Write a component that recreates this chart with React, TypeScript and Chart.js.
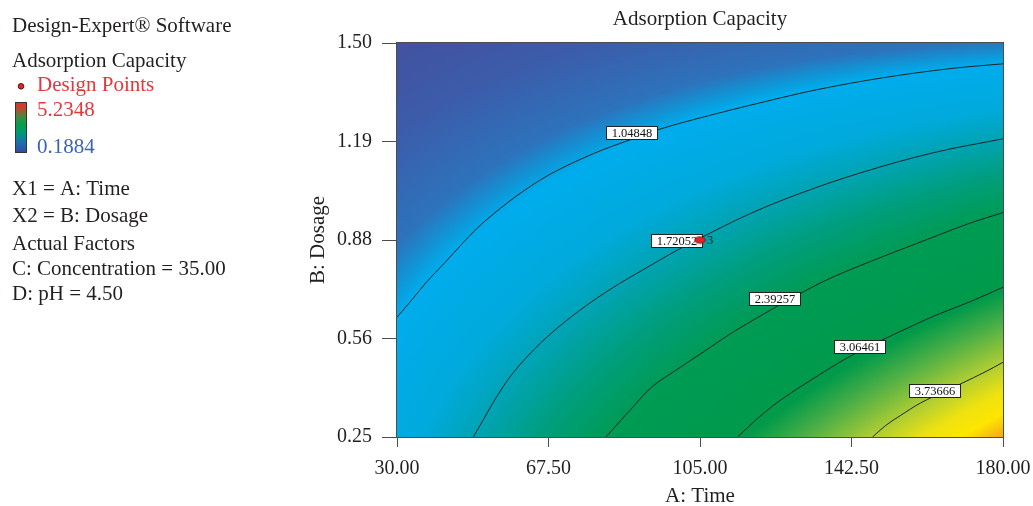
import React, { useEffect, useRef } from "react";
import { Chart, registerables } from "chart.js";

Chart.register(...registerables);

// ---------- data ----------
const TIME_TICKS = [30, 67.5, 105, 142.5, 180];
const TIME_TICK_LABELS = ["30.00", "67.50", "105.00", "142.50", "180.00"];
const DOSAGE_TICKS = [0.25, 0.5625, 0.875, 1.1875, 1.5];
const DOSAGE_TICK_LABELS = ["0.25", "0.56", "0.88", "1.19", "1.50"];

// response surface samples (Adsorption Capacity) on a Time x Dosage grid
const TIME_GRID = [30, 45, 60, 75, 90, 105, 120, 135, 150, 165, 180];
const DOSAGE_GRID = [0.25, 0.375, 0.5, 0.625, 0.75, 0.875, 1.0, 1.125, 1.25, 1.375, 1.5];
const CAPACITY_GRID = [
  [1.330, 1.635, 1.941, 2.248, 2.555, 2.863, 3.172, 3.481, 3.790, 4.101, 4.412],
  [1.243, 1.521, 1.799, 2.078, 2.359, 2.640, 2.922, 3.204, 3.488, 3.772, 4.057],
  [1.151, 1.402, 1.654, 1.907, 2.161, 2.416, 2.672, 2.928, 3.186, 3.444, 3.703],
  [1.052, 1.279, 1.506, 1.735, 1.964, 2.193, 2.423, 2.653, 2.884, 3.116, 3.348],
  [0.947, 1.151, 1.356, 1.560, 1.765, 1.969, 2.174, 2.379, 2.584, 2.789, 2.994],
  [0.836, 1.019, 1.202, 1.384, 1.565, 1.746, 1.926, 2.105, 2.284, 2.462, 2.639],
  [0.719, 0.883, 1.045, 1.206, 1.365, 1.523, 1.678, 1.832, 1.985, 2.135, 2.284],
  [0.596, 0.742, 0.886, 1.027, 1.164, 1.299, 1.431, 1.560, 1.686, 1.810, 1.930],
  [0.467, 0.597, 0.724, 0.845, 0.963, 1.076, 1.184, 1.289, 1.389, 1.484, 1.575],
  [0.331, 0.448, 0.558, 0.662, 0.761, 0.852, 0.938, 1.018, 1.092, 1.159, 1.221],
  [0.190, 0.294, 0.390, 0.478, 0.557, 0.629, 0.693, 0.748, 0.795, 0.835, 0.866],
];

const RESPONSE_MAX = 5.2348;
const RESPONSE_MIN = 0.1884;

const CONTOUR_LEVELS = [1.04848, 1.72052, 2.39257, 3.06461, 3.73666];
// contour paths: [time, dosage]
const CONTOUR_1 = [[30, 0.630], [34.0, 0.690], [37.2, 0.740], [41.9, 0.804], [45.9, 0.860], [49.8, 0.912], [53.9, 0.958], [60.6, 1.024], [68.1, 1.085], [78.8, 1.150], [87.5, 1.192], [95.4, 1.228], [106.1, 1.266], [119.8, 1.310], [134.0, 1.352], [150.4, 1.390], [167.1, 1.419], [180, 1.434]];
const CONTOUR_2 = [[48.9, 0.25], [56.8, 0.420], [63.8, 0.526], [72.0, 0.620], [82.0, 0.712], [91.9, 0.788], [99.4, 0.843], [104.9, 0.880], [117.3, 0.958], [129.8, 1.023], [144.7, 1.088], [162.8, 1.152], [180, 1.196]];
const CONTOUR_3 = [[81.7, 0.25], [88.4, 0.345], [93.0, 0.408], [99.4, 0.465], [106.1, 0.522], [113.1, 0.582], [124.0, 0.664], [130.5, 0.710], [138.0, 0.758], [150.4, 0.823], [161.3, 0.877], [171.3, 0.926], [180, 0.962]];
const CONTOUR_4 = [[114.3, 0.25], [119.8, 0.315], [125.5, 0.372], [134.0, 0.443], [140.9, 0.497], [147.9, 0.544], [154.6, 0.585], [162.8, 0.633], [172.0, 0.680], [180, 0.725]];
const CONTOUR_5 = [[147.7, 0.25], [151.0, 0.287], [154.6, 0.318], [159.6, 0.358], [165.8, 0.396], [169.6, 0.419], [175.8, 0.458], [180, 0.487]];
const CONTOURS = [CONTOUR_1, CONTOUR_2, CONTOUR_3, CONTOUR_4, CONTOUR_5];

// contour label positions
const LABEL_TIME = [88.1, 99.3, 123.6, 144.5, 163.1];
const LABEL_DOSAGE = [1.214, 0.873, 0.687, 0.534, 0.397];

// design points
const DESIGN_TIME = [105];
const DESIGN_DOSAGE = [0.875];
const DESIGN_REPLICATES = [3];

// ---------- styles ----------
const FONT = '"Liberation Serif", "Times New Roman", Times, serif';
const INK = "#231F20";
const RED = "#E8353B";
const BLUE = "#3C62B3";
const AXIS = "#4d4d4d";

const COLOR_STOPS: [number, number[]][] = [
  [0.19, [66, 82, 160]],
  [0.50, [60, 92, 170]],
  [0.85, [45, 115, 188]],
  [0.97, [15, 150, 215]],
  [1.05, [0, 172, 236]],
  [1.45, [0, 170, 220]],
  [1.75, [0, 163, 175]],
  [2.05, [0, 158, 125]],
  [2.40, [0, 155, 84]],
  [3.10, [0, 154, 74]],
  [3.40, [80, 176, 70]],
  [3.72, [170, 204, 52]],
  [4.00, [238, 226, 16]],
  [4.20, [253, 230, 0]],
  [4.45, [243, 154, 31]],
  [5.23, [226, 50, 40]],
];

function colorFor(v: number): number[] {
  const s = COLOR_STOPS;
  if (v <= s[0][0]) return s[0][1];
  for (let k = 1; k < s.length; k++) {
    if (v <= s[k][0]) {
      const t = (v - s[k - 1][0]) / (s[k][0] - s[k - 1][0]);
      const a = s[k - 1][1];
      const b = s[k][1];
      return [a[0] + (b[0] - a[0]) * t, a[1] + (b[1] - a[1]) * t, a[2] + (b[2] - a[2]) * t];
    }
  }
  return s[s.length - 1][1];
}

function fracIndex(arr: number[], v: number): number {
  const n = arr.length - 1;
  if (v <= arr[0]) return 0;
  if (v >= arr[n]) return n;
  for (let k = 0; k < n; k++) {
    if (v <= arr[k + 1]) return k + (v - arr[k]) / (arr[k + 1] - arr[k]);
  }
  return n;
}

function sampleCapacity(fx: number, fy: number): number {
  const i0 = Math.min(Math.floor(fx), TIME_GRID.length - 2);
  const j0 = Math.min(Math.floor(fy), DOSAGE_GRID.length - 2);
  const tx = fx - i0;
  const ty = fy - j0;
  const g = CAPACITY_GRID;
  const a = g[j0][i0] * (1 - tx) + g[j0][i0 + 1] * tx;
  const b = g[j0 + 1][i0] * (1 - tx) + g[j0 + 1][i0 + 1] * tx;
  return a * (1 - ty) + b * ty;
}

const heatmapPlugin = {
  id: "heatmap",
  beforeDatasetsDraw(chart: any) {
    const { ctx, chartArea, scales } = chart;
    const xs = scales.x;
    const ys = scales.y;
    const left = Math.round(chartArea.left);
    const top = Math.round(chartArea.top);
    const w = Math.round(chartArea.right) - left;
    const h = Math.round(chartArea.bottom) - top;
    const off = document.createElement("canvas");
    off.width = w;
    off.height = h;
    const octx = off.getContext("2d")!;
    const img = octx.createImageData(w, h);
    const fxs: number[] = [];
    for (let i = 0; i < w; i++) fxs.push(fracIndex(TIME_GRID, xs.getValueForPixel(left + i + 0.5)));
    for (let j = 0; j < h; j++) {
      const fy = fracIndex(DOSAGE_GRID, ys.getValueForPixel(top + j + 0.5));
      for (let i = 0; i < w; i++) {
        const c = colorFor(sampleCapacity(fxs[i], fy));
        const p = (j * w + i) * 4;
        img.data[p] = c[0];
        img.data[p + 1] = c[1];
        img.data[p + 2] = c[2];
        img.data[p + 3] = 255;
      }
    }
    octx.putImageData(img, 0, 0);
    ctx.drawImage(off, left, top);
  },
  beforeDatasetDraw(chart: any, args: any) {
    if (args.index !== 0) return;
    const { ctx, scales } = chart;
    ctx.save();
    ctx.font = `12.5px ${FONT}`;
    ctx.textAlign = "center";
    ctx.textBaseline = "middle";
    for (let k = 0; k < CONTOUR_LEVELS.length; k++) {
      const px = Math.round(scales.x.getPixelForValue(LABEL_TIME[k]));
      const py = Math.round(scales.y.getPixelForValue(LABEL_DOSAGE[k]));
      const bw = 52;
      const bh = 14;
      ctx.fillStyle = "#ffffff";
      ctx.fillRect(px - bw / 2, py - bh / 2, bw, bh);
      ctx.strokeStyle = "#222";
      ctx.lineWidth = 1;
      ctx.strokeRect(px - bw / 2 + 0.5, py - bh / 2 + 0.5, bw - 1, bh - 1);
      ctx.fillStyle = "#111";
      ctx.fillText(CONTOUR_LEVELS[k].toFixed(5), px, py + 0.5);
    }
    ctx.restore();
  },
  afterDatasetsDraw(chart: any) {
    const { ctx, chartArea, scales } = chart;
    ctx.save();
    ctx.font = `12.5px ${FONT}`;
    ctx.fillStyle = "#222";
    ctx.textAlign = "left";
    ctx.textBaseline = "middle";
    for (let k = 0; k < DESIGN_TIME.length; k++) {
      if (DESIGN_REPLICATES[k] > 1) {
        const px = scales.x.getPixelForValue(DESIGN_TIME[k]);
        const py = scales.y.getPixelForValue(DESIGN_DOSAGE[k]);
        ctx.fillText(String(DESIGN_REPLICATES[k]), px + 7, py + 1);
      }
    }
    ctx.strokeStyle = AXIS;
    ctx.lineWidth = 1;
    const l = Math.round(chartArea.left);
    const t = Math.round(chartArea.top);
    const r = Math.round(chartArea.right);
    const b = Math.round(chartArea.bottom);
    ctx.strokeRect(l - 0.5, t - 0.5, r - l + 1, b - t + 1);
    ctx.restore();
  },
  afterDraw(chart: any) {
    const { ctx } = chart;
    ctx.save();
    ctx.textAlign = "left";
    ctx.textBaseline = "alphabetic";
    ctx.font = `21px ${FONT}`;
    const lines: [string, number, number, string][] = [
      ["Design-Expert® Software", 12, 32, INK],
      ["Adsorption Capacity", 12, 66.7, INK],
      ["Design Points", 37, 90.7, RED],
      [RESPONSE_MAX.toFixed(4), 37, 115.7, RED],
      [RESPONSE_MIN.toFixed(4), 37, 152.7, BLUE],
      ["X1 = A: Time", 12, 195, INK],
      ["X2 = B: Dosage", 12, 221.7, INK],
      ["Actual Factors", 12, 250, INK],
      ["C: Concentration = 35.00", 12, 275, INK],
      ["D: pH = 4.50", 12, 300, INK],
    ];
    for (const [text, x, y, color] of lines) {
      ctx.fillStyle = color;
      ctx.fillText(text, x, y);
    }
    ctx.beginPath();
    ctx.arc(21, 86.3, 2.8, 0, Math.PI * 2);
    ctx.fillStyle = "#E2232A";
    ctx.fill();
    ctx.strokeStyle = "#5a1010";
    ctx.lineWidth = 1;
    ctx.stroke();
    const gx = 15, gy = 102, gw = 12, gh = 51;
    const grad = ctx.createLinearGradient(0, gy, 0, gy + gh);
    grad.addColorStop(0, "#E5302A");
    grad.addColorStop(0.12, "#C4462C");
    grad.addColorStop(0.3, "#3F8C40");
    grad.addColorStop(0.45, "#00A04C");
    grad.addColorStop(0.62, "#00977A");
    grad.addColorStop(0.8, "#1C6DB3");
    grad.addColorStop(1, "#33489C");
    ctx.fillStyle = grad;
    ctx.fillRect(gx, gy, gw, gh);
    ctx.strokeStyle = "#333";
    ctx.strokeRect(gx + 0.5, gy + 0.5, gw - 1, gh - 1);
    ctx.restore();
  },
};

function makeEllipseMarker(): HTMLCanvasElement {
  const c = document.createElement("canvas");
  c.width = 13;
  c.height = 9;
  const g = c.getContext("2d")!;
  g.beginPath();
  g.ellipse(6.5, 4.5, 5.3, 3.3, 0, 0, Math.PI * 2);
  g.fillStyle = "#E2232A";
  g.fill();
  g.strokeStyle = "#6a1010";
  g.lineWidth = 1;
  g.stroke();
  return c;
}

export default function App() {
  const ref = useRef<HTMLCanvasElement>(null);

  useEffect(() => {
    document.body.style.margin = "0";
    document.body.style.overflow = "hidden";
    const canvas = ref.current!;
    const marker = makeEllipseMarker();

    const designData = DESIGN_TIME.map((t, i) => ({ x: t, y: DESIGN_DOSAGE[i] }));
    const lineSets = CONTOURS.map((c) => ({
      type: "line" as const,
      data: c.map((p) => ({ x: p[0], y: p[1] })),
      borderColor: "#1b2626",
      borderWidth: 1,
      pointRadius: 0,
      tension: 0.35,
      fill: false,
    }));

    const titleFont = { family: FONT, size: 21, weight: "normal" as const };
    const tickFont = { family: FONT, size: 20, weight: "normal" as const };

    const chart = new Chart(canvas, {
      type: "scatter",
      data: {
        datasets: [
          {
            type: "scatter",
            data: designData,
            pointStyle: marker as any,
            pointRadius: 5,
            backgroundColor: "#E2232A",
            borderColor: "#6a1010",
          },
          ...lineSets,
        ] as any,
      },
      plugins: [heatmapPlugin],
      options: {
        animation: false,
        responsive: false,
        devicePixelRatio: 1,
        layout: { padding: { left: 290, right: 30, top: 0, bottom: 0 } },
        plugins: {
          legend: { display: false },
          tooltip: { enabled: false },
          title: {
            display: true,
            text: "Adsorption Capacity",
            fullSize: false,
            color: INK,
            font: titleFont,
            padding: { top: 6.4, bottom: 11.4 },
          },
        },
        scales: {
          x: {
            type: "linear",
            min: 30,
            max: 180,
            afterBuildTicks: (s: any) => {
              s.ticks = TIME_TICKS.map((v) => ({ value: v }));
            },
            afterFit: (s: any) => {
              s.height = 69;
              s.paddingLeft = 0;
              s.paddingRight = 0;
            },
            ticks: {
              callback: (_v: any, i: number) => TIME_TICK_LABELS[i],
              font: tickFont,
              color: INK,
              padding: 10,
              maxRotation: 0,
              autoSkip: false,
            },
            grid: { drawOnChartArea: false, drawTicks: true, tickLength: 10, color: AXIS },
            border: { display: false },
            title: { display: true, text: "A: Time", color: INK, font: titleFont, padding: { top: 0, bottom: -3 } },
          },
          y: {
            type: "linear",
            min: 0.25,
            max: 1.5,
            afterBuildTicks: (s: any) => {
              s.ticks = DOSAGE_TICKS.map((v) => ({ value: v }));
            },
            afterFit: (s: any) => {
              s.width = 107;
              s.paddingTop = 0;
              s.paddingBottom = 0;
            },
            ticks: {
              callback: (_v: any, i: number) => DOSAGE_TICK_LABELS[i],
              font: tickFont,
              color: INK,
              padding: 10,
              autoSkip: false,
            },
            grid: { drawOnChartArea: false, drawTicks: true, tickLength: 15, color: AXIS },
            border: { display: false },
            title: { display: true, text: "B: Dosage", color: INK, font: titleFont, padding: { top: 15.4, bottom: 0 } },
          },
        },
      } as any,
    });

    return () => chart.destroy();
  }, []);

  return (
    <div style={{ position: "relative", width: 1033, height: 506 }}>
      <canvas ref={ref} width={1033} height={506} style={{ display: "block" }} />
    </div>
  );
}
